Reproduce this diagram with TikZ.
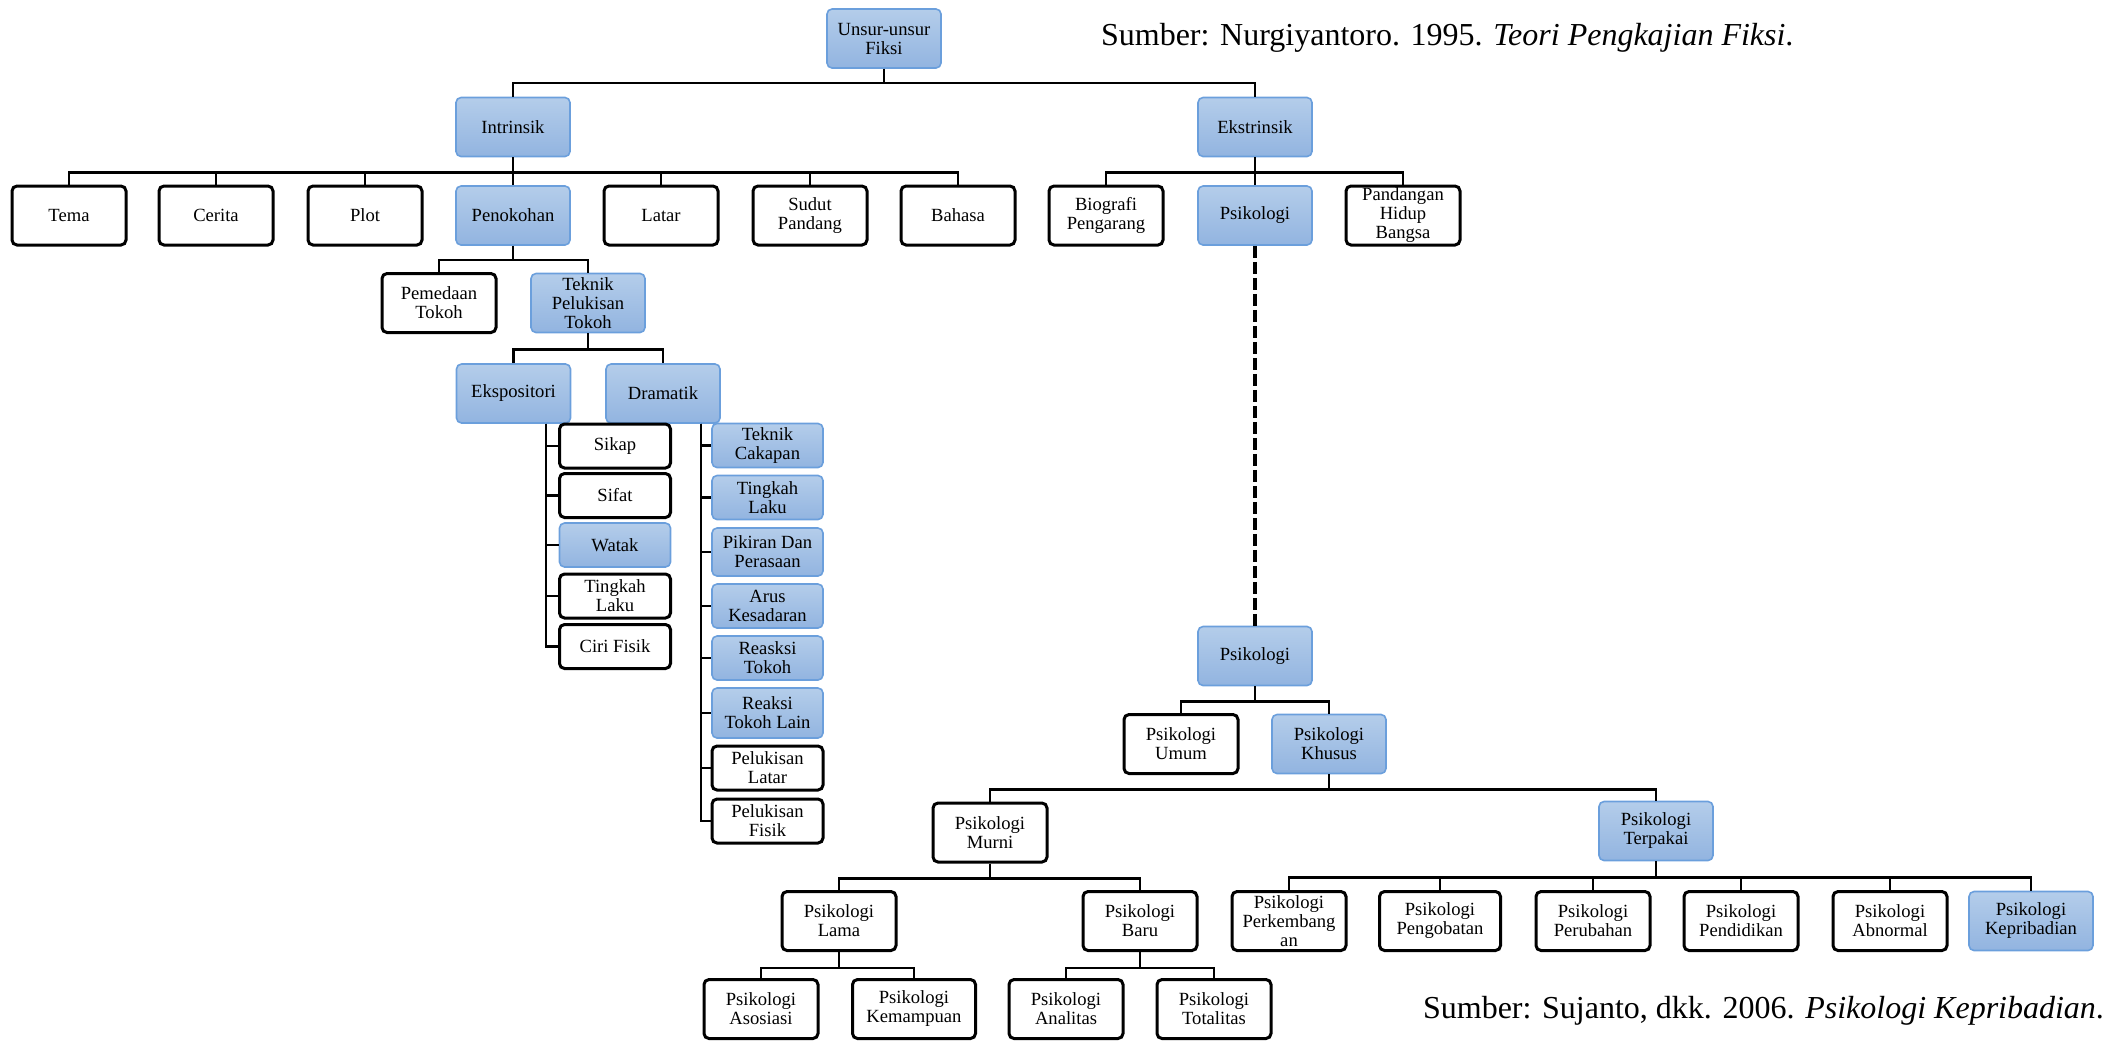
\documentclass[tikz,border=0pt]{standalone}
\usepackage{fontspec}
\setmainfont{Liberation Serif}
\definecolor{skBlueTop}{HTML}{B4CDEA}
\definecolor{skBlueBot}{HTML}{92B4E0}
\definecolor{skBlueEdge}{HTML}{6B9FDC}
\usepackage{tikz}
\usetikzlibrary{calc}

\begin{document}
\begin{tikzpicture}[x=0.5pt, y=-0.5pt,
  box/.style={rounded corners=2.5pt, align=center, inner sep=1pt,
    minimum width=57pt, minimum height=29.5pt,
    font=\fontsize{9.3}{9.5}\selectfont},
  whitebox/.style={box, draw=black, line width=1.5pt, fill=white},
  bluebox/.style={box, draw=skBlueEdge, line width=0.8pt,
    top color=skBlueTop, bottom color=skBlueBot},
  listbox/.style={minimum width=55.5pt, minimum height=22pt},
  link/.style={line width=1.3pt},
  source/.style={anchor=base west, font=\fontsize{16}{18}\selectfont}]
  \useasboundingbox (0,0) rectangle (2102,1041);

  % Sources
  \node[source] (srcA) at (1094,45) {Sumber: Nurgiyantoro. 1995. \textit{Teori Pengkajian Fiksi}.};
  \node[source] (srcB) at (1416,1018) {Sumber: Sujanto, dkk. 2006. \textit{Psikologi Kepribadian}.};

  % Top levels
  \node[bluebox] (fiksi) at (884,38.5) {Unsur-unsur\\Fiksi};
  \node[bluebox] (intr) at (513,127) {Intrinsik};
  \node[bluebox] (ekstr) at (1255,127) {Ekstrinsik};

  % Intrinsik row
  \node[whitebox] (tema) at (69,215.5) {Tema};
  \node[whitebox] (cerita) at (216,215.5) {Cerita};
  \node[whitebox] (plot) at (365,215.5) {Plot};
  \node[bluebox] (penok) at (513,215.5) {Penokohan};
  \node[whitebox] (latar) at (661,215.5) {Latar};
  \node[whitebox] (sudut) at (810,215.5) {Sudut\\Pandang};
  \node[whitebox] (bahasa) at (958,215.5) {Bahasa};

  % Ekstrinsik row
  \node[whitebox] (bio) at (1106,215.5) {Biografi\\Pengarang};
  \node[bluebox] (psiA) at (1255,215.5) {Psikologi};
  \node[whitebox] (pandang) at (1403,215.5) {Pandangan\\Hidup\\Bangsa};

  % Penokohan
  \node[whitebox] (pemedaan) at (439,303) {Pemedaan\\Tokoh};
  \node[bluebox] (teknik) at (588,303) {Teknik\\Pelukisan\\Tokoh};
  \node[bluebox] (ekspo) at (513.5,393.5) {Ekspositori};
  \node[bluebox] (drama) at (663,393.5) {Dramatik};

  % Ekspositori list
  \node[whitebox, listbox] (sikap) at (615,446) {Sikap};
  \node[whitebox, listbox] (sifat) at (615,495.5) {Sifat};
  \node[bluebox, listbox] (watak) at (615,545) {Watak};
  \node[whitebox, listbox] (tlakuA) at (615,596) {Tingkah\\Laku};
  \node[whitebox, listbox] (ciri) at (615,646.5) {Ciri Fisik};

  % Dramatik list
  \node[bluebox, listbox] (cakap) at (767.5,445.5) {Teknik\\Cakapan};
  \node[bluebox, listbox] (tlakuB) at (767.5,497.5) {Tingkah\\Laku};
  \node[bluebox, listbox, minimum height=24pt] (pikir) at (767.5,552) {Pikiran Dan\\Perasaan};
  \node[bluebox, listbox] (arus) at (767.5,606) {Arus\\Kesadaran};
  \node[bluebox, listbox] (reasksi) at (767.5,658) {Reasksi\\Tokoh};
  \node[bluebox, listbox, minimum height=25pt] (reaksi) at (767.5,713) {Reaksi\\Tokoh Lain};
  \node[whitebox, listbox] (plLatar) at (767.5,768) {Pelukisan\\Latar};
  \node[whitebox, listbox] (plFisik) at (767.5,821) {Pelukisan\\Fisik};

  % Psikologi tree
  \node[bluebox] (psiB) at (1255,656) {Psikologi};
  \node[whitebox] (umum) at (1181,744) {Psikologi\\Umum};
  \node[bluebox] (khusus) at (1329,744) {Psikologi\\Khusus};
  \node[whitebox] (murni) at (990,832.5) {Psikologi\\Murni};
  \node[bluebox] (terpakai) at (1656,831) {Psikologi\\Terpakai};
  \node[whitebox] (lama) at (839,921) {Psikologi\\Lama};
  \node[whitebox] (baru) at (1140,921) {Psikologi\\Baru};
  \node[whitebox] (asosiasi) at (761,1009) {Psikologi\\Asosiasi};
  \node[whitebox, minimum width=61.5pt] (mampu) at (914,1009) {Psikologi\\Kemampuan};
  \node[whitebox] (analitas) at (1066,1009) {Psikologi\\Analitas};
  \node[whitebox] (totalitas) at (1214,1009) {Psikologi\\Totalitas};

  % Psikologi terpakai row
  \node[whitebox] (kembang) at (1289,921) {Psikologi\\Perkembang\\an};
  \node[whitebox, minimum width=60.5pt] (obat) at (1440,921) {Psikologi\\Pengobatan};
  \node[whitebox] (ubah) at (1593,921) {Psikologi\\Perubahan};
  \node[whitebox] (didik) at (1741,921) {Psikologi\\Pendidikan};
  \node[whitebox] (abnormal) at (1890,921) {Psikologi\\Abnormal};
  \node[bluebox, minimum width=62pt] (pribadi) at (2031,921) {Psikologi\\Kepribadian};

  % Connectors
  \draw[link] (fiksi.south) -- ++(0,14) -| (intr.north);
  \draw[link] (fiksi.south) -- ++(0,14) -| (ekstr.north);

  \draw[link] (intr.south) -- ++(0,15) -| (tema.north);
  \draw[link] (intr.south) -- ++(0,15) -| (cerita.north);
  \draw[link] (intr.south) -- ++(0,15) -| (plot.north);
  \draw[link] (intr.south) -- (penok.north);
  \draw[link] (intr.south) -- ++(0,15) -| (latar.north);
  \draw[link] (intr.south) -- ++(0,15) -| (sudut.north);
  \draw[link] (intr.south) -- ++(0,15) -| (bahasa.north);

  \draw[link] (ekstr.south) -- ++(0,15) -| (bio.north);
  \draw[link] (ekstr.south) -- (psiA.north);
  \draw[link] (ekstr.south) -- ++(0,15) -| (pandang.north);

  \draw[link] (penok.south) -- ++(0,14) -| (pemedaan.north);
  \draw[link] (penok.south) -- ++(0,14) -| (teknik.north);
  \draw[link] (teknik.south) -- ++(0,16) -| (ekspo.north);
  \draw[link] (teknik.south) -- ++(0,16) -| (drama.north);

  \coordinate (eksBus) at ($(ekspo.south)+(32.5,0)$);
  \draw[link] (eksBus) |- (sikap.west);
  \draw[link] (eksBus) |- (sifat.west);
  \draw[link] (eksBus) |- (watak.west);
  \draw[link] (eksBus) |- (tlakuA.west);
  \draw[link] (eksBus) |- (ciri.west);

  \coordinate (draBus) at ($(drama.south)+(38,0)$);
  \draw[link] (draBus) |- (cakap.west);
  \draw[link] (draBus) |- (tlakuB.west);
  \draw[link] (draBus) |- (pikir.west);
  \draw[link] (draBus) |- (arus.west);
  \draw[link] (draBus) |- (reasksi.west);
  \draw[link] (draBus) |- (reaksi.west);
  \draw[link] (draBus) |- (plLatar.west);
  \draw[link] (draBus) |- (plFisik.west);

  % Psikologi, continued below
  \draw[line width=2pt, dash pattern=on 6.3pt off 1.7pt] (psiA.south) -- (psiB.north);

  \draw[link] (psiB.south) -- ++(0,15) -| (umum.north);
  \draw[link] (psiB.south) -- ++(0,15) -| (khusus.north);
  \draw[link] (khusus.south) -- ++(0,15) -| (murni.north);
  \draw[link] (khusus.south) -- ++(0,15) -| (terpakai.north);
  \draw[link] (murni.south) -- ++(0,15) -| (lama.north);
  \draw[link] (murni.south) -- ++(0,15) -| (baru.north);
  \draw[link] (lama.south) -- ++(0,16) -| (asosiasi.north);
  \draw[link] (lama.south) -- ++(0,16) -| (mampu.north);
  \draw[link] (baru.south) -- ++(0,16) -| (analitas.north);
  \draw[link] (baru.south) -- ++(0,16) -| (totalitas.north);

  \draw[link] (terpakai.south) -- ++(0,16) -| (kembang.north);
  \draw[link] (terpakai.south) -- ++(0,16) -| (obat.north);
  \draw[link] (terpakai.south) -- ++(0,16) -| (ubah.north);
  \draw[link] (terpakai.south) -- ++(0,16) -| (didik.north);
  \draw[link] (terpakai.south) -- ++(0,16) -| (abnormal.north);
  \draw[link] (terpakai.south) -- ++(0,16) -| (pribadi.north);

\end{tikzpicture}
\end{document}
